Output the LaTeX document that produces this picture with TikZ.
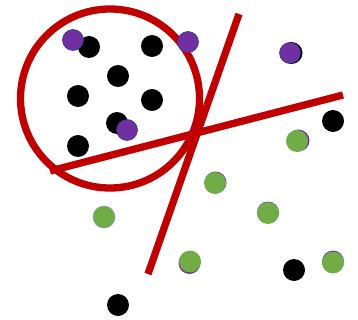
\documentclass[tikz,border=0pt]{standalone}
\definecolor{redl}{HTML}{C00000}
\definecolor{purp}{HTML}{7030A0}
\definecolor{grn}{HTML}{70AD47}
\definecolor{edge}{HTML}{2F3C8F}
\tikzset{
  blk/.style={circle, fill=black, minimum size=22pt, inner sep=0pt},
  pur/.style={circle, fill=purp, draw=edge, line width=0.6pt, minimum size=21pt, inner sep=0pt},
  gre/.style={circle, fill=grn, minimum size=22pt, inner sep=0pt},
  under/.style={circle, fill=purp, minimum size=22pt, inner sep=0pt},
  redline/.style={draw=redl, line width=7.3pt},
}
\begin{document}
\begin{tikzpicture}[x=1pt,y=-1pt]
\useasboundingbox (0,0) rectangle (358,320);
% separators
\coordinate (a1) at (148,274);
\coordinate (a2) at (239,14);
\coordinate (b1) at (50,171);
\coordinate (b2) at (343,95);
\draw[redline] (110,98.5) circle (89.5);
\draw[redline] (a1) -- (a2);
\draw[redline] (b1) -- (b2);
% black dots
\node[blk] (k1) at (89,47) {};
\node[blk] (k2) at (152,46) {};
\node[blk] (k3) at (118,76) {};
\node[blk] (k4) at (78,96) {};
\node[blk] (k5) at (152,100) {};
\node[blk] (k6) at (117,123) {};
\node[blk] (k7) at (78,146) {};
\node[blk] (k8) at (333,121) {};
\node[blk] (k9) at (294,270) {};
\node[blk] (k10) at (118,305) {};
\node[blk] (k11) at (291.5,53) {};
% purple dots
\node[pur] (p1) at (73,40) {};
\node[pur] (p2) at (127,130) {};
\node[pur] (p3) at (188,42) {};
\node[pur] (p4) at (290,53) {};
% green dots with purple underneath
\node[under] (u1) at (298.5,140.5) {};
\node[gre] (g1) at (297,141) {};
\node[under] (u2) at (215.5,182.5) {};
\node[gre] (g2) at (215,183) {};
\node[under] (u3) at (268,212.5) {};
\node[gre] (g3) at (268,213) {};
\node[under] (u4) at (189.5,263) {};
\node[gre] (g4) at (190,261.5) {};
\node[under] (u5) at (333,261.5) {};
\node[gre] (g5) at (333,262.5) {};
\node[gre, draw=edge!60, line width=0.4pt] (g6) at (104,217) {};
\end{tikzpicture}
\end{document}
